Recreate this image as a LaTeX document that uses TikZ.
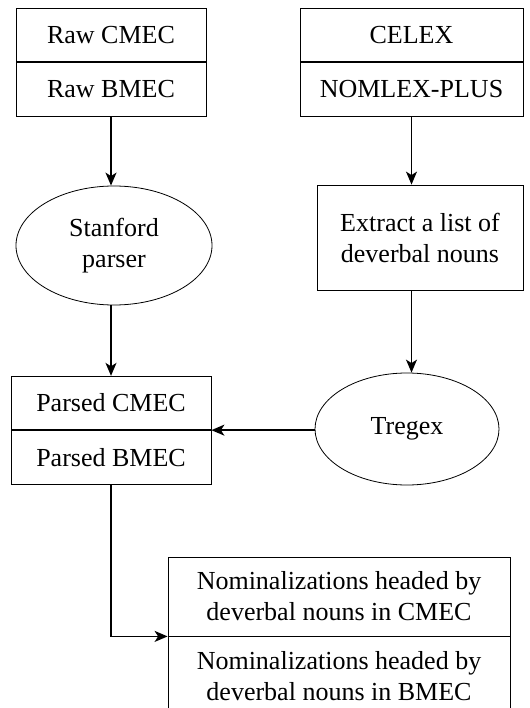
\documentclass[tikz,border=0pt]{standalone}
\usepackage{fontspec}
\setmainfont{Liberation Serif}
\usetikzlibrary{positioning,shapes.geometric,arrows.meta}
\tikzset{
    flow-box/.style = {draw, line width=0.8pt, rectangle, inner sep=0pt, align=center, font=\fontsize{26}{31}\selectfont},
    flow-oval/.style = {draw, line width=0.8pt, ellipse, inner sep=0pt, align=center, font=\fontsize{26}{31}\selectfont},
    flow-arrow/.style = {line width=1.5pt, -{Stealth[length=13pt, width=11pt, inset=3.5pt]}},
}

\begin{document}
\begin{tikzpicture}[x=1pt, y=-1pt]
\useasboundingbox (0,0) rectangle (529,708);
% sources
\node [flow-box, minimum width=190pt, minimum height=53.5pt] (raw-cmec) at (111,35) {Raw CMEC};
\node [flow-box, minimum width=190pt, minimum height=53.5pt, below=0pt of raw-cmec] (raw-bmec) {Raw BMEC};
\node [flow-box, minimum width=223pt, minimum height=53.5pt] (celex) at (411.5,35) {CELEX};
\node [flow-box, minimum width=223pt, minimum height=53.5pt, below=0pt of celex] (nomlex) {NOMLEX-PLUS};
% tools
\node [flow-oval, minimum width=196pt, minimum height=119pt] (stanford) at (114,245.5) {Stanford\\parser};
\node [flow-box, minimum width=206pt, minimum height=105pt] (extract) at (420,237.5) {Extract a list of\\deverbal nouns};
\node [flow-oval, minimum width=184pt, minimum height=112pt] (tregex) at (407,429) {Tregex};
% results
\node [flow-box, minimum width=200pt, minimum height=53.5pt] (parsed-cmec) at (111,403) {Parsed CMEC};
\node [flow-box, minimum width=200pt, minimum height=53.5pt, below=0pt of parsed-cmec] (parsed-bmec) {Parsed BMEC};
\node [flow-box, minimum width=342pt, minimum height=79pt] (nomin-cmec) at (339,596.5) {Nominalizations headed by\\deverbal nouns in CMEC};
\node [flow-box, minimum width=342pt, minimum height=79pt, below=0pt of nomin-cmec] (nomin-bmec) {Nominalizations headed by\\deverbal nouns in BMEC};
% connectors
\draw [flow-arrow] (raw-bmec.south) -- (raw-bmec.south |- stanford.north);
\draw [flow-arrow] (stanford.south -| raw-bmec.south) -- (parsed-cmec.north -| raw-bmec.south);
\draw [flow-arrow] (nomlex.south) -- (nomlex.south |- extract.north);
\draw [flow-arrow] (extract.south -| nomlex.south) -- (tregex.north -| nomlex.south);
\draw [flow-arrow] (tregex.west |- parsed-cmec.south) -- (parsed-cmec.south east);
\draw [flow-arrow] (parsed-bmec.south) |- (nomin-cmec.south west);
\end{tikzpicture}
\end{document}
